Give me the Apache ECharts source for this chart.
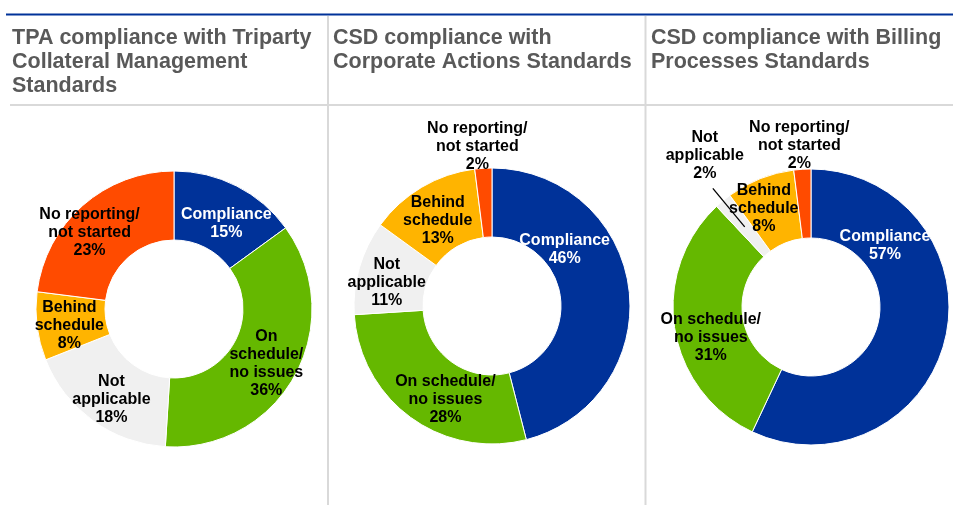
<!DOCTYPE html>
<html>
<head>
<meta charset="utf-8">
<script src="https://cdn.jsdelivr.net/npm/echarts@6/dist/echarts.min.js"></script>
<style>
  html, body { margin: 0; padding: 0; background: #fff; }
  #chart { width: 953px; height: 511px; }
</style>
</head>
<body>
<div id="chart"></div>
<script>
// ---- Data ----
const categories = ['Compliance', 'On schedule/no issues', 'Not applicable', 'Behind schedule', 'No reporting/not started'];
const chartTitles = [
  'TPA compliance with Triparty\nCollateral Management\nStandards',
  'CSD compliance with\nCorporate Actions Standards',
  'CSD compliance with Billing\nProcesses Standards'
];
const tpaValues = [15, 36, 18, 8, 23];
const corporateActionsValues = [46, 28, 11, 13, 2];
const billingValues = [57, 31, 2, 8, 2];
// label wording (line breaks as printed)
const tpaLabels = ['Compliance', 'On\nschedule/\nno issues', 'Not\napplicable', 'Behind\nschedule', 'No reporting/\nnot started'];
const caLabels = ['Compliance', 'On schedule/\nno issues', 'Not\napplicable', 'Behind\nschedule', 'No reporting/\nnot started'];
const billingLabels = ['Compliance', 'On schedule/\nno issues', 'Not\napplicable', 'Behind\nschedule', 'No reporting/\nnot started'];

// ---- Styles / layout ----
const colors = ['#003299', '#65B800', '#F0F0F0', '#FFB400', '#FF4B00'];
const labelColors = ['#ffffff', '#000000', '#000000', '#000000', '#000000'];
const FONT = '"Liberation Sans", Arial, sans-serif';
const labelBase = { fontFamily: FONT, fontSize: 16, fontWeight: 'bold', lineHeight: 18 };

const panels = [
  { values: tpaValues, labels: tpaLabels, center: [174, 309], titleLeft: 12,
    nudge: [[4, 9], [-1, 3], [0, 4], [1, 3], [-14, 3]], leader: null },
  { values: corporateActionsValues, labels: caLabels, center: [492, 306], titleLeft: 333,
    nudge: [[-33, -43], [16, 7], [-3, 6], [0, 6], [-8, -53]], leader: null },
  { values: billingValues, labels: billingLabels, center: [811, 307], titleLeft: 651,
    nudge: [[-30, -85], [5, 14], [0, 0], [-8, 1], [-5, -55]], leader: { index: 2, shift: [-8, -33] } }
];

const chart = echarts.init(document.getElementById('chart'), null, { renderer: 'canvas' });

const series = [];
panels.forEach(function (p) {
  const fmt = function (d) { return p.labels[d.dataIndex] + '\n' + d.value + '%'; };
  series.push({
    type: 'pie',
    center: p.center,
    radius: [69, 138],
    startAngle: 90,
    clockwise: true,
    avoidLabelOverlap: false,
    animation: false,
    silent: true,
    z: 2,
    itemStyle: { borderColor: '#ffffff', borderWidth: 1 },
    label: Object.assign({ show: true, position: 'inside', formatter: fmt }, labelBase),
    labelLine: { show: false },
    data: categories.map(function (name, i) {
      const hidden = p.leader && p.leader.index === i;
      return {
        name: name,
        value: p.values[i],
        itemStyle: { color: colors[i] },
        label: { show: !hidden, color: labelColors[i] }
      };
    }),
    labelLayout: function (params) {
      const r = params.labelRect;
      const n = p.nudge[params.dataIndex];
      return {
        x: r.x + r.width / 2 + n[0],
        y: r.y + r.height / 2 + n[1],
        align: 'center', verticalAlign: 'middle'
      };
    }
  });
  if (p.leader) {
    // transparent overlay pie carrying the leader-lined label
    const L = p.leader;
    series.push({
      type: 'pie',
      center: p.center,
      radius: [0, 104],
      startAngle: 90,
      clockwise: true,
      avoidLabelOverlap: false,
      animation: false,
      silent: true,
      z: 5,
      itemStyle: { color: 'rgba(0,0,0,0)', borderWidth: 0 },
      label: Object.assign({ show: false, position: 'outside', color: '#000', formatter: fmt }, labelBase),
      labelLine: { show: false },
      data: categories.map(function (name, i) {
        const item = { name: name, value: p.values[i] };
        if (i === L.index) {
          item.label = { show: true };
          item.labelLine = { show: true, showAbove: true, length: 50, length2: 0, smooth: false,
                             lineStyle: { color: '#000', width: 1.3 } };
        }
        return item;
      }),
      labelLayout: function (params) {
        if (params.dataIndex !== L.index || !params.labelLinePoints) return {};
        const pts = params.labelLinePoints;
        const end = pts[1];
        return {
          x: end[0] + L.shift[0], y: end[1] + L.shift[1],
          align: 'center', verticalAlign: 'middle',
          labelLinePoints: pts
        };
      }
    });
  }
});

const titles = panels.map(function (p, i) {
  return {
    text: chartTitles[i],
    left: p.titleLeft,
    top: 26,
    padding: 0,
    textStyle: { fontFamily: FONT, fontSize: 21.5, fontWeight: 'bold', color: '#595959', lineHeight: 24 }
  };
});

const lineStyleGray = { stroke: '#d9d9d9', lineWidth: 2 };
chart.setOption({
  animation: false,
  title: titles,
  graphic: [
    { type: 'line', shape: { x1: 6, y1: 14.5, x2: 953, y2: 14.5 }, style: { stroke: '#003299', lineWidth: 2 } },
    { type: 'line', shape: { x1: 10, y1: 105, x2: 953, y2: 105 }, style: lineStyleGray },
    { type: 'line', shape: { x1: 328, y1: 16, x2: 328, y2: 505 }, style: lineStyleGray },
    { type: 'line', shape: { x1: 645.5, y1: 16, x2: 645.5, y2: 505 }, style: lineStyleGray }
  ],
  series: series
});
</script>
</body>
</html>
